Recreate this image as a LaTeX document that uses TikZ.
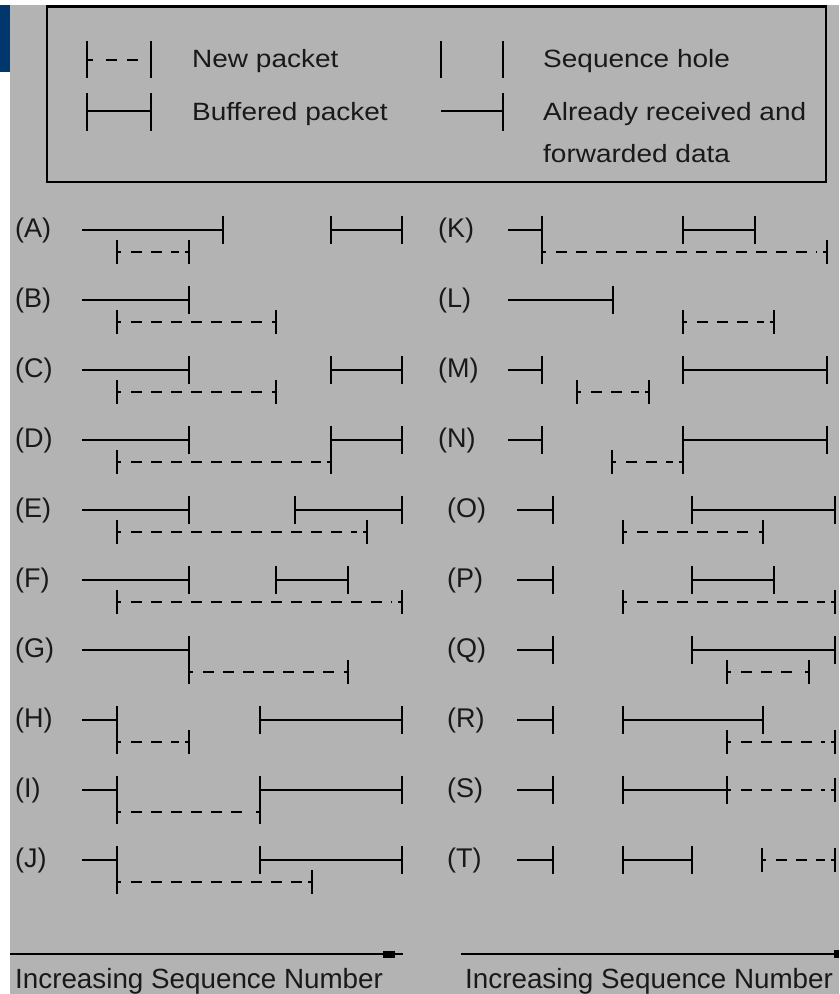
\documentclass[tikz,border=0pt]{standalone}
\usepackage{fontspec}
\setmainfont{Liberation Sans}
\definecolor{bggray}{RGB}{179,179,179}
\definecolor{cornerblue}{RGB}{0,56,110}
\newcommand{\pkFwd}[3]{%
  \draw[pk] (#2,#1) -- (#3,#1);
  \draw[pk] (#3,#1-14) -- (#3,#1+14);}
\newcommand{\pkBuf}[3]{%
  \draw[pk] (#2,#1) -- (#3,#1);
  \draw[pk] (#2,#1-14) -- (#2,#1+14);
  \draw[pk] (#3,#1-14) -- (#3,#1+14);}
\newcommand{\pkNew}[3]{%
  \draw[pk] (#2,#1-12) -- (#2,#1+12);
  \draw[pk] (#3,#1-12) -- (#3,#1+12);
  \draw[pk] (#2,#1) -- (#2+4,#1);
  \draw[pk] (#3-4,#1) -- (#3,#1);
  \draw[pk,dash pattern=on 11pt off 9pt] (#2+14,#1) -- (#3-10,#1);}
\newcommand{\pkExt}[2]{%
  \draw[pk] (#2,#1-14) -- (#2,#1+34);}
\begin{document}
\begin{tikzpicture}[x=1pt,y=-1pt,
  pk/.style={line width=2.9pt,line cap=butt,black},
  lbl/.style={anchor=base west,inner sep=0pt,font=\fontsize{27}{30}\selectfont,text=black!90},
  leg/.style={anchor=base west,inner sep=0pt,font=\fontsize{25}{30}\selectfont,text=black!90},
  axislbl/.style={anchor=base west,inner sep=0pt,font=\fontsize{27.8}{32}\selectfont,text=black!90}]
\useasboundingbox (0,0) rectangle (839,994);
\fill[white] (0,0) rectangle (839,994);
\fill[bggray] (10,5) rectangle (839,994);
\fill[cornerblue] (0,5) rectangle (10,72);
% legend
\draw[line width=2.4pt,black] (47,6.5) rectangle (826,182);
\draw[pk] (87,41) -- (87,78);
\draw[pk] (151,41) -- (151,78);
\draw[pk] (87,60) -- (93,60);
\draw[pk] (106,60) -- (117,60);
\draw[pk] (127,60) -- (138,60);
\node[leg] (lnew) at (192,67) {\scalebox{1.12}[1]{New packet}};
\draw[pk] (87,93) -- (87,131);
\draw[pk] (151,93) -- (151,131);
\draw[pk] (87,111) -- (151,111);
\node[leg] (lbuf) at (192,120) {\scalebox{1.12}[1]{Buffered packet}};
\draw[pk] (441,41) -- (441,78);
\draw[pk] (503,41) -- (503,78);
\node[leg] (lhole) at (543,67) {\scalebox{1.12}[1]{Sequence hole}};
\draw[pk] (441,111) -- (503,111);
\draw[pk] (503,93) -- (503,131);
\node[leg] (lfwd1) at (543,120) {\scalebox{1.12}[1]{Already received and}};
\node[leg] (lfwd2) at (543,162) {\scalebox{1.12}[1]{forwarded data}};
% left column
\node[lbl] (la) at (15,237) {(A)};
\pkFwd{230}{82}{223} \pkBuf{230}{331}{402} \pkNew{252}{117}{189}
\node[lbl] (lb) at (15,307) {(B)};
\pkFwd{300}{82}{189} \pkNew{322}{117}{276}
\node[lbl] (lc) at (15,377) {(C)};
\pkFwd{370}{82}{189} \pkBuf{370}{331}{402} \pkNew{392}{117}{276}
\node[lbl] (ld) at (15,447) {(D)};
\pkFwd{440}{82}{189} \pkBuf{440}{331}{402} \pkExt{440}{331} \pkNew{462}{117}{331}
\node[lbl] (le) at (15,517) {(E)};
\pkFwd{510}{82}{189} \pkBuf{510}{295}{402} \pkNew{532}{117}{367}
\node[lbl] (lf) at (15,587) {(F)};
\pkFwd{580}{82}{189} \pkBuf{580}{276}{348} \pkNew{602}{117}{402}
\node[lbl] (lg) at (15,657) {(G)};
\pkFwd{650}{82}{189} \pkExt{650}{189} \pkNew{672}{189}{348}
\node[lbl] (lh) at (15,727) {(H)};
\pkFwd{720}{82}{117} \pkExt{720}{117} \pkBuf{720}{260}{402} \pkNew{742}{117}{189}
\node[lbl] (li) at (15,797) {(I)};
\pkFwd{790}{82}{117} \pkExt{790}{117} \pkBuf{790}{260}{402} \pkExt{790}{260} \pkNew{812}{117}{260}
\node[lbl] (lj) at (15,867) {(J)};
\pkFwd{860}{82}{117} \pkExt{860}{117} \pkBuf{860}{260}{402} \pkNew{882}{117}{312}
% right column
\node[lbl] (lk) at (438,237) {(K)};
\pkFwd{230}{508}{542} \pkExt{230}{542} \pkBuf{230}{683}{755} \pkNew{252}{542}{827}
\node[lbl] (ll) at (438,307) {(L)};
\pkFwd{300}{508}{613} \pkNew{322}{683}{774}
\node[lbl] (lm) at (438,377) {(M)};
\pkFwd{370}{508}{542} \pkBuf{370}{683}{827} \pkNew{392}{577}{649}
\node[lbl] (ln) at (438,447) {(N)};
\pkFwd{440}{508}{542} \pkBuf{440}{683}{827} \pkExt{440}{683} \pkNew{462}{612}{683}
\node[lbl] (lo) at (447,517) {(O)};
\pkFwd{510}{517}{553} \pkBuf{510}{692}{835} \pkNew{532}{623}{763}
\node[lbl] (lp) at (447,587) {(P)};
\pkFwd{580}{517}{553} \pkBuf{580}{692}{774} \pkNew{602}{623}{835}
\node[lbl] (lq) at (447,657) {(Q)};
\pkFwd{650}{517}{553} \pkBuf{650}{692}{835} \pkNew{672}{727}{809}
\node[lbl] (lr) at (447,727) {(R)};
\pkFwd{720}{517}{553} \pkBuf{720}{623}{763} \pkNew{742}{727}{835}
\node[lbl] (ls) at (447,797) {(S)};
\pkFwd{790}{517}{553} \pkBuf{790}{623}{727} \pkNew{790}{727}{835}
\node[lbl] (lt) at (447,867) {(T)};
\pkFwd{860}{517}{553} \pkBuf{860}{623}{692} \pkNew{860}{762}{835}
% axes
\coordinate (a1s) at (10,954);
\coordinate (a1e) at (403,954);
\draw[line width=2.6pt,black] (a1s) -- (a1e);
\fill[black] (383,950.5) rectangle (395,957.5);
\node[axislbl] (ax1) at (15,988) {Increasing Sequence Number};
\coordinate (a2s) at (461,954);
\coordinate (a2e) at (839,954);
\draw[line width=2.6pt,black] (a2s) -- (a2e);
\fill[black] (834,950) rectangle (839,958);
\node[axislbl] (ax2) at (465,988) {Increasing Sequence Number};
\end{tikzpicture}
\end{document}
